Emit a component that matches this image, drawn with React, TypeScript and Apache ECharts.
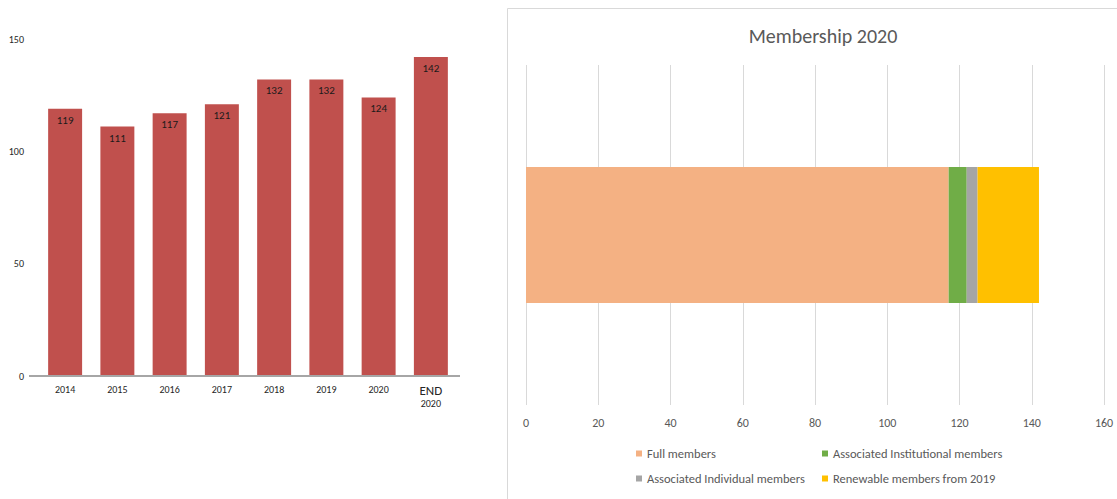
import React, { useEffect, useRef } from "react";
import * as echarts from "echarts";

const years = ["2014", "2015", "2016", "2017", "2018", "2019", "2020", "END\n2020"];
const members = [119, 111, 117, 121, 132, 132, 124, 142];
const yTicks = { min: 0, max: 150, interval: 50 };

const stackNames = [
  "Full members",
  "Associated Institutional members",
  "Associated Individual members",
  "Renewable members from 2019",
];
const stackValues = [117, 5, 3, 17];
const stackColors = ["#F4B183", "#70AD47", "#A5A5A5", "#FFC000"];
const xTicks = { min: 0, max: 160, interval: 20 };

const FONT = "Carlito, Lato, 'Liberation Sans', sans-serif";

export default function App() {
  const ref = useRef<HTMLDivElement>(null);
  useEffect(() => {
    document.body.style.margin = "0";
    const chart = echarts.init(ref.current!, null, { renderer: "svg" });
    chart.setOption({
      animation: false,
      backgroundColor: "#ffffff",
      textStyle: { fontFamily: FONT },
      title: {
        text: "Membership 2020",
        left: 818,
        top: 21,
        textAlign: "center",
        textStyle: { fontSize: 20, fontWeight: "normal", color: "#595959", fontFamily: FONT },
      },
      graphic: [
        {
          type: "rect",
          shape: { x: 507.5, y: 8.5, width: 620, height: 500 },
          style: { fill: "none", stroke: "#d9d9d9", lineWidth: 1 },
          silent: true,
        },
        {
          type: "line",
          shape: { x1: 29, y1: 376, x2: 460, y2: 376 },
          style: { stroke: "#a6a6a6", lineWidth: 2 },
          silent: true,
          z: 10,
        },
      ],
      legend: [
        {
          data: [stackNames[0], stackNames[2]],
          orient: "vertical",
          left: 636,
          top: 447,
          itemWidth: 6,
          itemHeight: 6,
          itemGap: 12,
          icon: "rect",
          padding: 0,
          textStyle: { fontSize: 12.5, color: "#595959", fontFamily: FONT },
        },
        {
          data: [stackNames[1], stackNames[3]],
          orient: "vertical",
          left: 822,
          top: 447,
          itemWidth: 6,
          itemHeight: 6,
          itemGap: 12,
          icon: "rect",
          padding: 0,
          textStyle: { fontSize: 12.5, color: "#595959", fontFamily: FONT },
        },
      ],
      grid: [
        { left: 39, right: 1117 - 457, top: 39, bottom: 499 - 376, containLabel: false },
        { left: 526, right: 1117 - 1104, top: 65, bottom: 499 - 405, containLabel: false },
      ],
      xAxis: [
        {
          type: "category",
          gridIndex: 0,
          data: years,
          axisLine: { show: false },
          axisTick: { show: false },
          axisLabel: {
            interval: 0,
            margin: 8,
            fontSize: 10,
            color: "#262626",
            fontFamily: FONT,
            formatter: (v: string) => {
              const parts = v.split("\n");
              if (parts.length > 1) return `{a|${parts[0]}}\n{b|${parts[1]}}`;
              return v;
            },
            rich: {
              a: { fontSize: 13, color: "#262626", lineHeight: 13, fontFamily: FONT },
              b: { fontSize: 10, color: "#262626", lineHeight: 13, fontFamily: FONT },
            },
          },
        },
        {
          type: "value",
          gridIndex: 1,
          min: xTicks.min,
          max: xTicks.max,
          interval: xTicks.interval,
          axisLine: { show: false },
          axisTick: { show: false },
          splitLine: { lineStyle: { color: "#d9d9d9" } },
          axisLabel: { margin: 12, fontSize: 12, color: "#595959", fontFamily: FONT },
        },
      ],
      yAxis: [
        {
          type: "value",
          gridIndex: 0,
          min: yTicks.min,
          max: yTicks.max,
          interval: yTicks.interval,
          axisLine: { show: false },
          axisTick: { show: false },
          splitLine: { show: false },
          axisLabel: { margin: 15, fontSize: 10, color: "#262626", fontFamily: FONT },
        },
        {
          type: "category",
          gridIndex: 1,
          data: ["Membership"],
          show: false,
        },
      ],
      series: [
        {
          type: "bar",
          xAxisIndex: 0,
          yAxisIndex: 0,
          data: members,
          barCategoryGap: "35%",
          itemStyle: { color: "#C0504D" },
          label: {
            show: true,
            position: "insideTop",
            distance: 6,
            fontSize: 11,
            color: "#1a1a1a",
            fontFamily: FONT,
          },
        },
        ...stackNames.map((name, i) => ({
          type: "bar",
          name,
          xAxisIndex: 1,
          yAxisIndex: 1,
          stack: "total",
          barWidth: 136,
          data: [stackValues[i]],
          itemStyle: { color: stackColors[i] },
        })),
      ],
    });
    return () => chart.dispose();
  }, []);
  return <div ref={ref} style={{ position: "absolute", left: 0, top: 0, width: 1117, height: 499 }} />;
}
